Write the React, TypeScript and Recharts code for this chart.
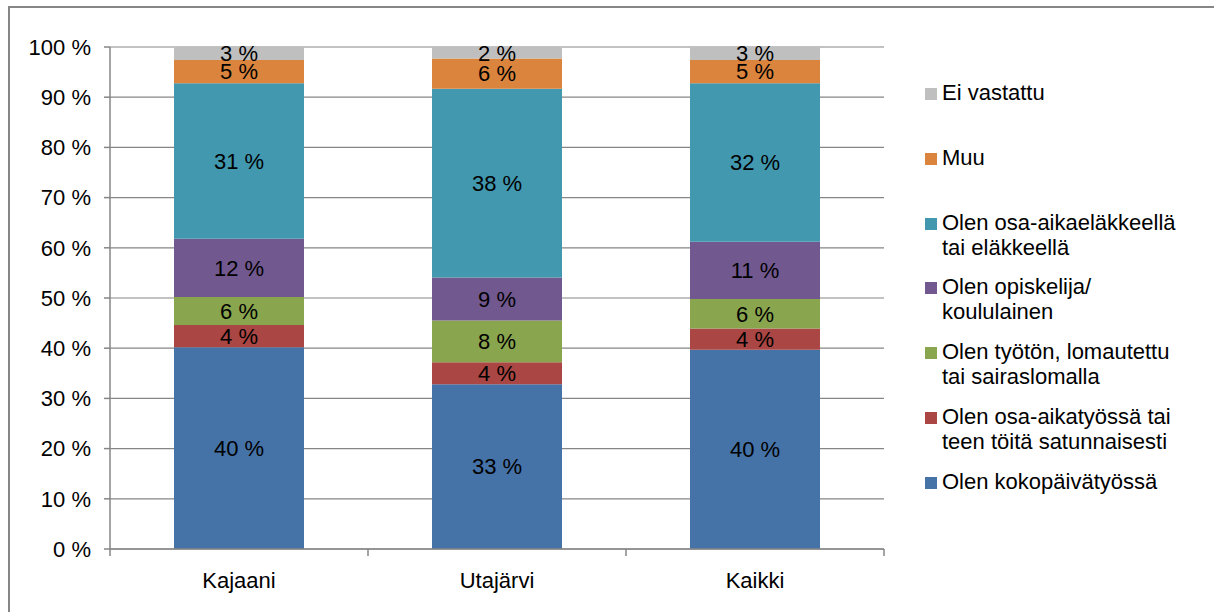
import React from 'react';
import { BarChart, Bar, XAxis, YAxis, CartesianGrid, LabelList } from 'recharts';

const categories = ['Kajaani', 'Utajärvi', 'Kaikki'];

// stacked from bottom to top
const kokopaiva = [40.2, 32.8, 39.7];
const osaAikatyo = [4.4, 4.4, 4.2];
const tyoton = [5.6, 8.3, 5.9];
const opiskelija = [11.6, 8.6, 11.4];
const elakkeella = [31.0, 37.6, 31.6];
const muu = [4.6, 6.0, 4.6];
const eiVastattu = [2.6, 2.3, 2.6];

const yTicks = [0, 10, 20, 30, 40, 50, 60, 70, 80, 90, 100];

const series = [
  { key: 'kokopaiva', name: 'Olen kokopäivätyössä', values: kokopaiva, color: '#4572A7' },
  { key: 'osaAikatyo', name: 'Olen osa-aikatyössä tai\nteen töitä satunnaisesti', values: osaAikatyo, color: '#AA4643' },
  { key: 'tyoton', name: 'Olen työtön, lomautettu\ntai sairaslomalla', values: tyoton, color: '#89A54E' },
  { key: 'opiskelija', name: 'Olen opiskelija/\nkoululainen', values: opiskelija, color: '#71588F' },
  { key: 'elakkeella', name: 'Olen osa-aikaeläkkeellä\ntai eläkkeellä', values: elakkeella, color: '#4198AF' },
  { key: 'muu', name: 'Muu', values: muu, color: '#DB843D' },
  { key: 'eiVastattu', name: 'Ei vastattu', values: eiVastattu, color: '#BFBFBF' },
];

const data = categories.map((c, i) => {
  const row: Record<string, string | number> = { name: c };
  series.forEach(s => { row[s.key] = s.values[i]; });
  return row;
});

const W = 1214;
const H = 612;
const M = { top: 47, right: 330, bottom: 23, left: 10 };
const Y_W = 100;
const plotW = W - M.left - Y_W - M.right;
const band = plotW / categories.length;
const FONT = '"Liberation Sans", Arial, sans-serif';
const FS = 22;
const AXIS = '#868686';

const XTick = (props: any) => {
  const { x, y, payload, index } = props;
  const top = y - 8;
  return (
    <g>
      <line x1={x - band / 2} y1={top} x2={x - band / 2} y2={top + 7} stroke={AXIS} strokeWidth={1.5} />
      {index === categories.length - 1 && (
        <line x1={x + band / 2} y1={top} x2={x + band / 2} y2={top + 7} stroke={AXIS} strokeWidth={1.5} />
      )}
      <text x={x} y={top + 39} textAnchor="middle" fontSize={FS} fill="#000" fontFamily={FONT}>
        {payload.value}
      </text>
    </g>
  );
};

const LegendBox = () => (
  <div style={{ position: 'absolute', left: 925, top: 80, fontFamily: FONT, fontSize: FS, color: '#000', lineHeight: '25px' }}>
    {[...series].reverse().map(s => (
      <div key={s.key} style={{ display: 'flex', alignItems: 'flex-start', height: 64.8 }}>
        <span style={{ width: 12, height: 12, background: s.color, marginTop: 8, marginRight: 5, flex: 'none' }} />
        <span style={{ whiteSpace: 'pre-line' }}>{s.name}</span>
      </div>
    ))}
  </div>
);

export default function App() {
  return (
    <div style={{ position: 'absolute', left: 0, top: 0, width: W, height: H, background: '#fff', overflow: 'hidden' }}>
      <div style={{ position: 'absolute', left: 8, top: 6, width: W, height: H, borderTop: `2px solid ${AXIS}`, borderLeft: `2px solid ${AXIS}` }} />
      <div style={{ position: 'absolute', left: 0, top: 0 }}>
        <BarChart width={W} height={H} data={data} margin={M} barSize={130}>
          <CartesianGrid horizontal vertical={false} stroke={AXIS} strokeWidth={1.2} />
          <XAxis
            dataKey="name"
            axisLine={{ stroke: AXIS, strokeWidth: 1.5 }}
            tickLine={false}
            tick={<XTick />}
            height={40}
            interval={0}
          />
          <YAxis
            width={Y_W}
            domain={[0, 100]}
            ticks={yTicks}
            interval={0}
            tickFormatter={(v: number) => `${v} %`}
            axisLine={{ stroke: AXIS, strokeWidth: 1.5 }}
            tickLine={{ stroke: AXIS, strokeWidth: 1.5 }}
            tickSize={6}
            tickMargin={13}
            tick={{ fontSize: FS, fill: '#000', fontFamily: FONT }}
          />
          {series.map(s => (
            <Bar key={s.key} dataKey={s.key} name={s.name} stackId="a" fill={s.color} isAnimationActive={false}>
              <LabelList
                dataKey={s.key}
                position="center"
                formatter={(v: any) => `${Math.round(Number(v))} %`}
                style={{ fontSize: FS, fill: '#000', fontFamily: FONT }}
              />
            </Bar>
          ))}
        </BarChart>
      </div>
      <LegendBox />
    </div>
  );
}
